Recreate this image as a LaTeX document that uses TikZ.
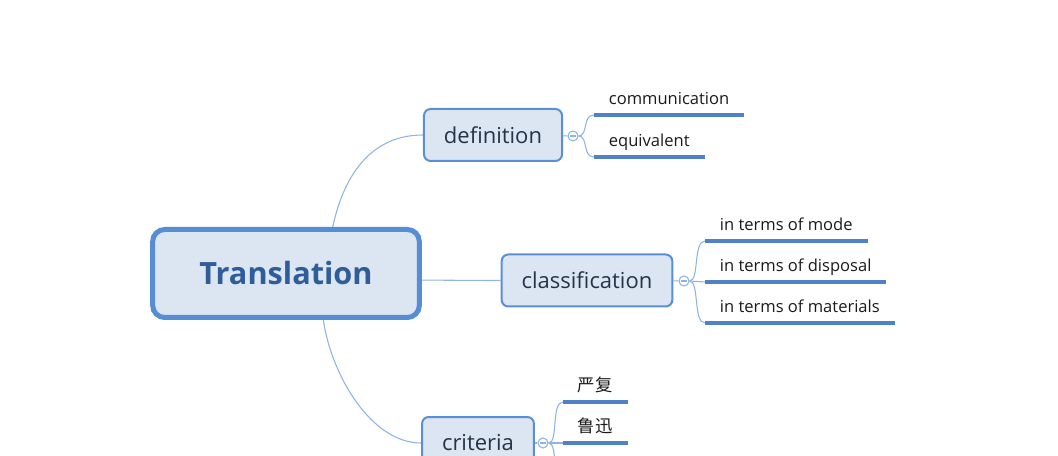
\documentclass[tikz,border=0pt]{standalone}
\usepackage{fontspec}
\setmainfont{Open Sans}
\newfontfamily\cjkfont{Noto Sans CJK SC}
\definecolor{boxfill}{HTML}{DCE6F2}
\definecolor{mainblue}{HTML}{558ED5}
\definecolor{subblue}{HTML}{5A8FD6}
\definecolor{titleblue}{HTML}{2E5D99}
\definecolor{subtext}{HTML}{243447}
\definecolor{leaftext}{HTML}{1A1A1A}
\definecolor{linkblue}{HTML}{8DB4E2}
\definecolor{ulineblue}{HTML}{4F81C7}

\begin{document}
\begin{tikzpicture}[x=0.75pt,y=-0.75pt,
  topic/.style={draw=mainblue, line width=3.75pt, fill=boxfill, rounded corners=9pt,
    minimum width=200pt, minimum height=66pt, text=titleblue,
    font=\fontsize{23}{28}\selectfont\bfseries},
  branch/.style={draw=subblue, line width=1.5pt, fill=boxfill, rounded corners=5pt,
    minimum height=39pt, inner xsep=15pt, text=subtext,
    font=\fontsize{16.5}{20}\selectfont},
  knob/.style={circle, draw=linkblue, fill=white, line width=0.8pt, minimum size=7.5pt,
    inner sep=0pt, path picture={\draw[linkblue, line width=0.8pt]
      ([xshift=-2pt]path picture bounding box.center) --
      ([xshift=2pt]path picture bounding box.center);}},
  leaf/.style={anchor=south west, inner xsep=11pt, inner ysep=8pt, text height=9pt,
    text depth=0pt, text=leaftext, font=\fontsize{12.4}{15}\selectfont},
  link/.style={draw=linkblue, line width=0.8pt},
  uline/.style={draw=ulineblue, line width=2.4pt}
]
\useasboundingbox (0,0) rectangle (1058,456);
\clip (0,0) rectangle (1058,456);
% central topic and main branches:
\node[topic] (trans) at (286,273.5) {Translation};
\node[branch] (defn) at (493,135) {definition};
\node[branch] (clas) at (587,280.5) {classification};
\node[branch] (crit) at (478,443) {criteria};
% collapse knobs:
\node[knob] (kdefn) at (573,136) {};
\node[knob] (kclas) at (684,281) {};
\node[knob] (kcrit) at (543,443) {};
% leaves:
\node[leaf] (comm) at (594,115) {communication};
\node[leaf] (equi) at (594,157) {equivalent};
\node[leaf] (mode) at (705,241) {in terms of mode};
\node[leaf] (disp) at (705,282) {in terms of disposal};
\node[leaf] (matr) at (705,323) {in terms of materials};
\node[leaf, font=\fontsize{13}{15}\cjkfont] (yanf) at (563,402) {严复};
\node[leaf, font=\fontsize{13}{15}\cjkfont] (luxu) at (563,443) {鲁迅};
\coordinate (crit3) at (563,484);
% topic to branches:
\draw[link] ([xshift=35pt]trans.north) .. controls +(12,-55) and +(-50,0) .. (defn.west);
\draw[link] ([yshift=-5pt]trans.east) .. controls +(35,0) and +(-35,0) .. (clas.west);
\draw[link] ([xshift=28pt]trans.south) .. controls +(8,55) and +(-50,0) .. (crit.west);
% branches to knobs:
\draw[link] (defn) -- (kdefn);
\draw[link] (clas) -- (kclas);
\draw[link] (crit) -- (kcrit);
% knobs to leaves:
\draw[link] (kdefn.east) .. controls +(10,0) and +(-12,0) .. (comm.south west);
\draw[link] (kdefn.east) .. controls +(10,0) and +(-12,0) .. (equi.south west);
\draw[link] (kclas.east) .. controls +(10,0) and +(-12,0) .. (mode.south west);
\draw[link] (kclas.east) -- (disp.south west);
\draw[link] (kclas.east) .. controls +(10,0) and +(-12,0) .. (matr.south west);
\draw[link] (kcrit.east) .. controls +(10,0) and +(-12,0) .. (yanf.south west);
\draw[link] (kcrit.east) -- (luxu.south west);
\draw[link] (kcrit.east) .. controls +(10,0) and +(-12,0) .. (crit3);
% underlines:
\foreach \l in {comm,equi,mode,disp,matr,yanf,luxu}
  \draw[uline] (\l.south west) -- (\l.south east);
\end{tikzpicture}
\end{document}
